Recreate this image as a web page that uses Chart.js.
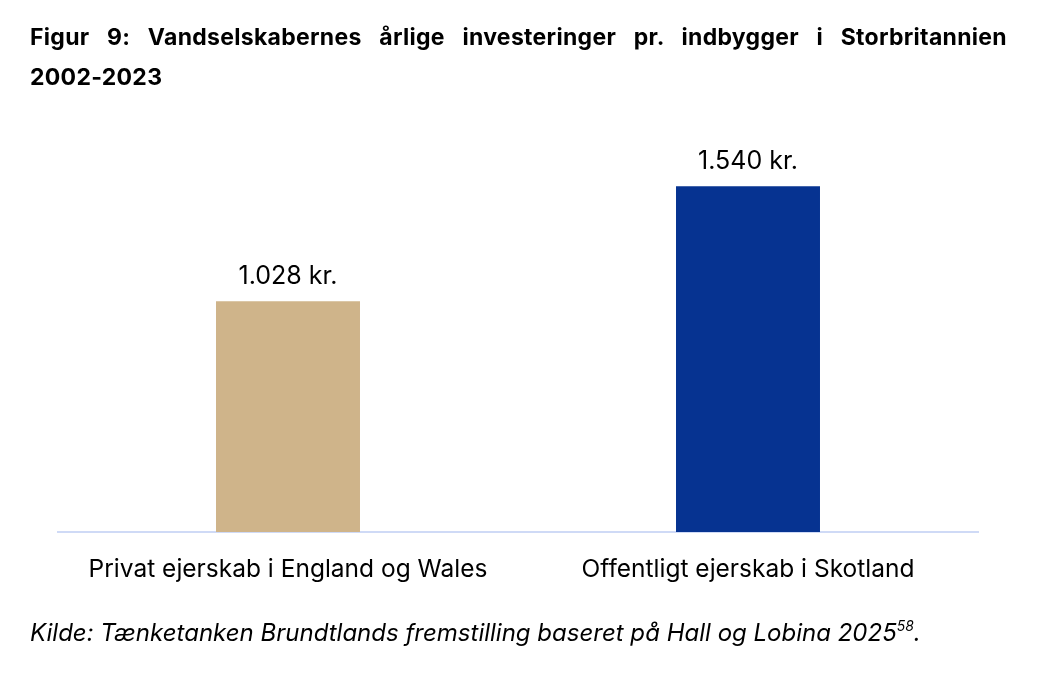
<!DOCTYPE html>
<html lang="da">
<head>
<meta charset="utf-8">
<script src="https://cdn.jsdelivr.net/npm/chart.js@4/dist/chart.umd.min.js"></script>
<style>
  html, body { margin: 0; padding: 0; background: #fff; }
  body { width: 1042px; height: 686px; position: relative; overflow: hidden; font-family: Inter, "Noto Sans", sans-serif; }
  #titel {
    position: absolute; left: 30px; top: 17px; width: 977px;
    font-weight: 700; font-size: 23px; line-height: 40px; color: #000; z-index: 2;
  }
  #titel .l1 { display: block; text-align: justify; text-align-last: justify; letter-spacing: 0.3px; }
  #titel .l2 { display: block; letter-spacing: 0.3px; }
  #kilde {
    position: absolute; left: 30px; top: 618px;
    font-style: italic; font-size: 24px; color: #000; z-index: 2;
  }
  #kilde sup { font-size: 14px; vertical-align: 10px; line-height: 0; }
  #wrap { position: absolute; left: 0; top: 0; width: 1042px; height: 686px; z-index: 1; }
</style>
</head>
<body>
<div id="titel"><span class="l1">Figur 9: Vandselskabernes årlige investeringer pr. indbygger i Storbritannien</span><span class="l2">2002-2023</span></div>
<div id="wrap"><canvas id="graf"></canvas></div>
<div id="kilde">Kilde: Tænketanken Brundtlands fremstilling baseret på Hall og Lobina 2025<sup>58</sup>.</div>
<script>
const kategorier = ['Privat ejerskab i England og Wales', 'Offentligt ejerskab i Skotland'];
const investering = [1028, 1540]; // kr. pr. indbygger
const farver = ['#cfb48a', '#063391'];

// tal med punktum som tusindtalsseparator
function kr(v) {
    return v.toString().replace(/\B(?=(\d{3})+(?!\d))/g, '.') + ' kr.';
}

// skriver værdien over hver søjle
const vaerdiLabels = {
    id: 'vaerdiLabels',
    afterDatasetsDraw(chart) {
        const ctx = chart.ctx;
        const meta = chart.getDatasetMeta(0);
        ctx.save();
        ctx.font = '25px Inter, "Noto Sans", sans-serif';
        ctx.fillStyle = '#000';
        ctx.textAlign = 'center';
        ctx.textBaseline = 'alphabetic';
        meta.data.forEach((bar, i) => {
            ctx.fillText(kr(investering[i]), bar.x, bar.y - 17);
        });
        ctx.restore();
    }
};

const ctx = document.getElementById('graf').getContext('2d');
const graf = new Chart(ctx, {
    type: 'bar',
    data: {
        labels: kategorier,
        datasets: [{
            data: investering,
            backgroundColor: farver,
            borderWidth: 0,
            barPercentage: 0.313,
            categoryPercentage: 1
        }]
    },
    options: {
        responsive: true,
        maintainAspectRatio: false,
        animation: false,
        layout: { padding: { left: 58, right: 64, top: 83, bottom: 94 } },
        plugins: {
            legend: { display: false },
            tooltip: { enabled: false }
        },
        scales: {
            x: {
                grid: { display: false, drawTicks: false },
                border: { display: true, color: '#cfdaf6', width: 2 },
                ticks: {
                    color: '#000',
                    padding: 23,
                    font: { family: 'Inter, "Noto Sans", sans-serif', size: 24.5 }
                },
                afterFit(s) { s.height = 60; }
            },
            y: {
                display: false,
                min: 0,
                max: 2000
            }
        }
    },
    plugins: [vaerdiLabels]
});
</script>
</body>
</html>
